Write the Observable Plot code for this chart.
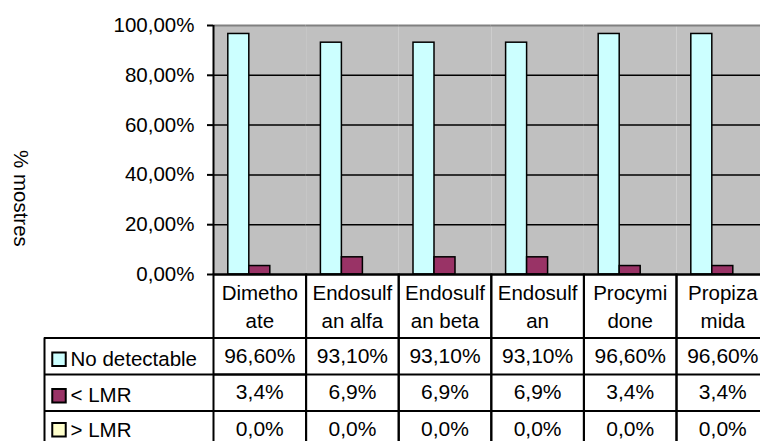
<!DOCTYPE html>
<html><head><meta charset="utf-8">
<script src="https://cdn.jsdelivr.net/npm/d3@7"></script>
<script src="https://cdn.jsdelivr.net/npm/@observablehq/plot@0.6"></script>
<style>
html,body{margin:0;padding:0;background:#fff;overflow:hidden;}
#chart svg{display:block}
</style></head><body><div id="chart"></div>
<script>
const categories = ["Dimethoate","Endosulfan alfa","Endosulfan beta","Endosulfan","Procymidone","Propizamida"];
const categoryLabels = ["Dimetho\nate","Endosulf\nan alfa","Endosulf\nan beta","Endosulf\nan","Procymi\ndone","Propiza\nmida"];
const series = ["No detectable","< LMR","> LMR"];
const noDetectable = [0.966,0.931,0.931,0.931,0.966,0.966];
const belowLMR = [0.034,0.069,0.069,0.069,0.034,0.034];
const aboveLMR = [0,0,0,0,0,0];
const seriesDecimals = [2,1,1];
const seriesColors = ["#CCFFFF","#993366","#FFFFCC"];
const yTicks = [0,0.2,0.4,0.6,0.8,1];
const yLabel = "% mostres";

const values = [noDetectable, belowLMR, aboveLMR];
const data = series.flatMap((s, si) => categories.map((c, ci) => ({category: c, series: s, value: values[si][ci], si})));

const locale = d3.formatLocale({decimal: ",", thousands: ".", grouping: [3], currency: ["", " €"]});
const pct = n => locale.format(`.${n}%`);

// layout
const W = 760, H = 441, mL = 213, mT = 25, mB = 167, mR = -8.6;
const frameH = H - mT - mB;
const fxStep = (W - mL - mR) / categories.length;
const headerH = 63.5, rowH = 36.5;
const rowCenter = i => headerH + rowH * i + rowH / 2;
const keyShift = [3, 3, 0.5];
const labelShift = [3, 2.5, 1];
const legendLeft = 44;
const first = () => categories[0];
const LW = 2;
const FS = 20.5;

const marks = [
  Plot.frame({fill: "#C0C0C0"}),
  Plot.ruleY(yTicks.filter(t => t > 0 && t < 1), {stroke: "#000", strokeWidth: 1.5}),
  Plot.ruleY([1], {stroke: "#808080", strokeWidth: 2}),
  Plot.barY(data, {fx: "category", x: "series", y: "value", fill: "series", stroke: "#000", strokeWidth: 1.5}),
  Plot.ruleY([0], {stroke: "#000", strokeWidth: LW}),
  Plot.axisY({ticks: yTicks, tickFormat: pct(2), tickSize: 6, tickPadding: 13, fontSize: FS, strokeWidth: LW, label: null}),
  Plot.ruleX([0], {fx: first, x: null, dx: -fxStep / 2, stroke: "#000", strokeWidth: LW}),
  // data table grid
  Plot.frame({stroke: "#000", strokeWidth: LW, insetTop: frameH, insetBottom: -200}),
  ...[0, 1, 2].map(i => Plot.ruleY([0], {dy: headerH + rowH * i, stroke: "#000", strokeWidth: LW})),
  ...[0, 1, 2].map(i => Plot.ruleY([0], {fx: first, dy: headerH + rowH * i, insetLeft: -(mL - legendLeft), stroke: "#000", strokeWidth: LW})),
  Plot.ruleX([0], {fx: first, x: null, dx: legendLeft - (mL + fxStep / 2), insetTop: frameH + headerH, insetBottom: -200, stroke: "#000", strokeWidth: LW}),
  // category header row
  Plot.text(categories, {fx: d => d, text: (d, i) => categoryLabels[i], frameAnchor: "bottom", lineAnchor: "middle", dy: 30.5, lineHeight: 1.34, fontSize: FS, fill: "#000"}),
  // value rows
  ...series.map((s, si) => Plot.text(data.filter(d => d.si === si), {fx: "category", text: d => pct(seriesDecimals[si])(d.value), frameAnchor: "bottom", lineAnchor: "middle", dy: rowCenter(si), fontSize: 21, fill: "#000"})),
  // legend keys
  ...series.map((s, si) => Plot.dot([s], {fx: first, frameAnchor: "bottom-left", dx: 58.5 - mL, dy: rowCenter(si) + keyShift[si], r: 7.6, symbol: "square", fill: seriesColors[si], stroke: "#000", strokeWidth: LW})),
  ...series.map((s, si) => Plot.text([s], {fx: first, text: d => d, frameAnchor: "bottom-left", lineAnchor: "middle", textAnchor: "start", dx: 70 - mL, dy: rowCenter(si) + labelShift[si], fontSize: FS, fill: "#000"})),
  // y label
  Plot.text([yLabel], {fx: first, text: d => d, frameAnchor: "left", lineAnchor: "middle", dx: 20 - mL, rotate: 90, fontSize: FS, fill: "#000"})
];

const chart = Plot.plot({
  width: W, height: H,
  marginLeft: mL, marginRight: mR, marginTop: mT, marginBottom: mB,
  style: {fontFamily: "'Liberation Sans', Arial, sans-serif", fontSize: "20px", color: "#000", background: "#fff"},
  fx: {domain: categories, padding: 0, axis: null, round: false},
  x: {domain: series, paddingInner: 0, paddingOuter: 0.705, axis: null, round: false},
  y: {domain: [0, 1]},
  color: {domain: series, range: seriesColors},
  marks
});
document.getElementById("chart").appendChild(chart);
</script></body></html>
